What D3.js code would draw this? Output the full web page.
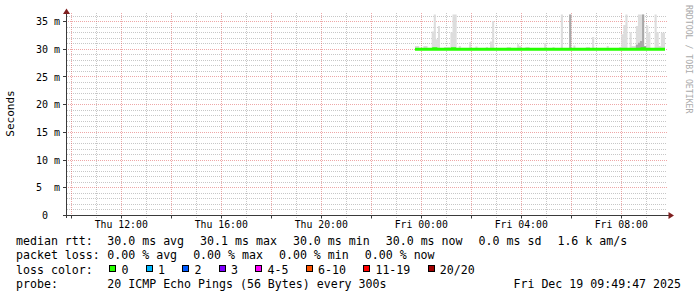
<!DOCTYPE html>
<html><head><meta charset="utf-8">
<script src="https://cdn.jsdelivr.net/npm/d3@7"></script>
<style>
html,body{margin:0;padding:0;background:#fff}
svg{display:block}
text{font-family:"DejaVu Sans Mono",monospace;white-space:pre;fill:#000}
</style>
</head><body>
<svg id="c" width="697" height="297"></svg>
<script>
// ---------- data ----------
const yTicks = [0, 5, 10, 15, 20, 25, 30, 35];
const yTickLabels = ["0  ", "5  m", "10 m", "15 m", "20 m", "25 m", "30 m", "35 m"];
const yLabel = "Seconds";
const watermark = "RRDTOOL / TOBI OETIKER";

const graphStart = "2025-12-18T09:49:47";
const graphEnd = "2025-12-19T09:49:47";
const dataStart = "2025-12-18T23:45:00";
const stepMinutes = 5;

// per 5-minute step (ms): median, max ping (outer smoke), inner smoke
const median = [
30.0,30.0,30.0,30.0,30.0,30.0,30.0,30.0,30.0,30.1,30.0,30.0,30.0,30.0,30.0,30.0,30.0,30.0,30.1,30.0,
30.0,30.0,30.0,30.0,30.0,30.0,30.0,30.0,30.0,30.0,30.0,30.0,30.0,30.0,30.0,30.0,30.0,30.0,30.0,30.0,
30.0,30.0,30.0,30.0,30.0,30.0,30.0,30.0,30.0,30.0,30.0,30.0,30.0,30.0,30.0,30.0,30.0,30.0,30.0,30.0,
30.0,30.0,30.0,30.0,30.0,30.0,30.0,30.0,30.0,30.0,30.0,30.0,30.0,30.0,30.0,30.0,30.0,30.0,30.0,30.0,
30.0,30.0,30.0,30.0,30.0,30.0,30.0,30.0,30.0,30.0,30.0,30.0,30.0,30.0,30.0,30.0,30.0,30.0,30.0,30.0,
30.0,30.0,30.0,30.0,30.0,30.0,30.0,30.0,30.0,30.1,30.0,30.0,30.0,30.0,30.0,30.0,30.0,30.0,30.0,30.0];
const pingMax = [
30.6,30.6,30.1,30.1,30.6,30.6,30.1,30.1,33.2,38.0,31.8,34.2,30.1,30.1,30.4,30.4,30.4,33.1,38.0,38.0,
30.1,30.6,30.1,30.1,30.1,30.1,31.3,30.1,30.1,30.5,30.1,30.1,30.1,30.1,30.4,30.1,31.4,35.1,30.1,30.1,
30.1,30.1,30.1,30.1,30.4,30.4,30.1,30.1,30.1,30.9,30.6,30.1,30.1,30.4,30.4,30.1,30.1,30.1,30.1,30.1,
30.1,30.1,31.1,30.1,30.1,30.1,30.4,30.1,30.1,30.1,38.0,30.1,30.1,30.1,38.0,30.1,30.7,30.1,30.1,30.1,
30.1,30.1,30.4,30.4,30.1,32.2,30.1,30.1,30.1,30.1,30.1,30.1,30.6,30.1,30.1,30.1,30.1,30.1,30.4,32.7,
34.4,38.0,30.1,33.1,30.6,30.6,34.2,38.0,38.0,38.0,30.6,34.3,33.0,30.1,30.1,38.0,33.1,30.6,33.0,33.0];
const pingInner = [
30.0,30.0,30.0,30.0,30.0,30.0,30.0,30.0,30.0,30.0,30.0,30.0,30.0,30.0,30.0,30.0,30.0,30.0,30.0,30.0,
30.0,30.0,30.0,30.0,30.0,30.0,30.0,30.0,30.0,30.0,30.0,30.0,30.0,30.0,30.0,30.0,30.0,30.0,30.0,30.0,
30.0,30.0,30.0,30.0,30.0,30.0,30.0,30.0,30.0,30.0,30.0,30.0,30.0,30.0,30.0,30.0,30.0,30.0,30.0,30.0,
30.0,30.0,30.0,30.0,30.0,30.0,30.0,30.0,30.0,30.0,30.0,30.0,30.0,30.0,38.0,30.0,30.0,30.0,30.0,30.0,
30.0,30.0,30.0,30.0,30.0,30.0,30.0,30.0,30.0,30.0,30.0,30.0,30.0,30.0,30.0,30.0,30.0,30.0,30.0,30.0,
30.0,30.0,30.0,30.0,30.0,30.0,30.8,31.2,31.5,38.0,30.6,30.0,30.0,30.0,30.0,30.0,30.0,30.0,30.0,30.0];
const pingMin = 29.9;

const legendRows = ["median rtt:", "packet loss:", "loss color:", "probe:"];
const medianStats = ["30.0 ms avg", "30.1 ms max", "30.0 ms min", "30.0 ms now", "0.0 ms sd", "1.6 k am/s"];
const lossStats = ["0.00 % avg", "0.00 % max", "0.00 % min", "0.00 % now"];
const lossLabels = ["0", "1", "2", "3", "4-5", "6-10", "11-19", "20/20"];
const lossColors = ["#26ff00", "#00b8ff", "#0059ff", "#7e00ff", "#ff00ff", "#ff5500", "#ff0000", "#a00000"];
const probeText = "20 ICMP Echo Pings (56 Bytes) every 300s";
const dateText = "Fri Dec 19 09:49:47 2025";

// ---------- drawing ----------
const svg = d3.select("#c");
const P = {l: 67, r: 667, t: 14.5, b: 215.5};
const x = d3.scaleTime().domain([new Date(graphStart), new Date(graphEnd)]).range([P.l, P.r]);
const y = d3.scaleLinear().domain([0, (P.b - P.t) / 5.54]).range([P.b, P.t]);
const crisp = v => Math.floor(v) + 0.5;

svg.append("rect").attr("width", 697).attr("height", 297).attr("fill", "#fff");

const minorCol = "rgba(143,143,143,0.5)", majorCol = "rgba(222,79,79,0.5)";
// grid (under graph)
const grid = svg.append("g");
const minorY = d3.range(1, 37).filter(v => v % 5 !== 0 && y(v) >= P.t - 1);
grid.selectAll(".hm").data(minorY).join("line")
  .attr("x1", P.l).attr("x2", P.r)
  .attr("y1", d => crisp(y(d))).attr("y2", d => crisp(y(d)))
  .attr("stroke", minorCol).attr("stroke-dasharray", "1,1");
const hours = d3.timeHour.range(x.domain()[0], x.domain()[1]);
grid.selectAll(".vm").data(hours.filter(h => h.getHours() % 2 !== 0)).join("line")
  .attr("x1", d => crisp(x(d))).attr("x2", d => crisp(x(d)))
  .attr("y1", 13).attr("y2", 218)
  .attr("stroke", minorCol).attr("stroke-dasharray", "1,1");
grid.selectAll(".hM").data(yTicks.filter(v => v > 0)).join("line")
  .attr("x1", P.l - 3).attr("x2", P.r)
  .attr("y1", d => crisp(y(d))).attr("y2", d => crisp(y(d)))
  .attr("stroke", majorCol).attr("stroke-dasharray", "1,1");
grid.selectAll(".vM").data(hours.filter(h => h.getHours() % 2 === 0)).join("line")
  .attr("x1", d => crisp(x(d))).attr("x2", d => crisp(x(d)))
  .attr("y1", 13).attr("y2", 218)
  .attr("stroke", majorCol).attr("stroke-dasharray", "1,1");

// data points
const t0 = new Date(dataStart).getTime();
const pts = median.map((m, i) => ({t: new Date(t0 + i * stepMinutes * 60000), med: m, max: pingMax[i], inner: pingInner[i]}));
pts.push(Object.assign({}, pts[pts.length - 1], {t: new Date(t0 + median.length * stepMinutes * 60000)}));

svg.append("clipPath").attr("id", "pc").append("rect")
  .attr("x", P.l).attr("y", P.t).attr("width", P.r - P.l).attr("height", P.b - P.t);
const g = svg.append("g").attr("clip-path", "url(#pc)");

const area = key => d3.area().curve(d3.curveStepAfter)
  .x(d => x(d.t)).y0(y(pingMin)).y1(d => y(d[key]));
g.append("path").datum(pts).attr("d", area("max")).attr("fill", "#dddddd");
g.append("path").datum(pts).attr("d", area("inner")).attr("fill", "#a8a8a8");

g.append("path").datum(pts)
  .attr("d", d3.line().curve(d3.curveStepAfter).x(d => x(d.t)).y(d => y(d.med)))
  .attr("fill", "none").attr("stroke", lossColors[0]).attr("stroke-width", 3);

// axes
const axisCol = "#3a3a3a", arrowCol = "#7f1f1f";
svg.append("line").attr("x1", P.l - 0.5).attr("x2", P.l - 0.5).attr("y1", 218).attr("y2", 13).attr("stroke", axisCol);
svg.append("line").attr("x1", 63).attr("x2", 669).attr("y1", P.b).attr("y2", P.b).attr("stroke", axisCol);
svg.selectAll(".yt").data(yTicks.filter(v => v > 0)).join("line")
  .attr("x1", P.l - 4).attr("x2", P.l - 1)
  .attr("y1", d => crisp(y(d))).attr("y2", d => crisp(y(d))).attr("stroke", axisCol);
svg.selectAll(".xt").data(hours.filter(h => h.getHours() % 2 === 0)).join("line")
  .attr("x1", d => crisp(x(d))).attr("x2", d => crisp(x(d)))
  .attr("y1", P.b + 0.5).attr("y2", P.b + 3).attr("stroke", axisCol);
svg.append("path").attr("d", "M66.5,8.5 L63,14 L70,14 Z").attr("fill", arrowCol);
svg.append("path").attr("d", "M674,215.5 L668.5,212 L668.5,219 Z").attr("fill", arrowCol);

// tick labels
svg.selectAll(".yl").data(yTicks).join("text")
  .attr("x", 60).attr("y", d => y(d) + 3.5)
  .attr("text-anchor", "end").attr("font-size", "10px")
  .text((d, i) => yTickLabels[i]);
const fmt = d3.timeFormat("%a %H:%M");
svg.selectAll(".xl").data(hours.filter(h => h.getHours() % 4 === 0)).join("text")
  .attr("x", d => x(d)).attr("y", 228)
  .attr("text-anchor", "middle").attr("font-size", "9.8px")
  .text(d => fmt(d));

svg.append("text").attr("transform", "translate(14,113.5) rotate(-90)")
  .attr("text-anchor", "middle").attr("font-size", "11px").text(yLabel);
svg.append("text").attr("transform", "translate(685.5,5) rotate(90)")
  .attr("font-size", "8.2px").style("fill", "#aaaaaa").text(watermark);

// legend
const fs = 11.6, cw = fs * 0.602;
const rowY = [245, 259.3, 273.5, 287.7];
const L = svg.append("g").attr("font-size", fs + "px");
legendRows.forEach((r, i) => L.append("text").attr("x", 16).attr("y", rowY[i]).text(r));
let px = 107.3;
medianStats.forEach(s => { L.append("text").attr("x", px).attr("y", rowY[0]).text(s); px += s.length * cw + 16; });
px = 107.3;
lossStats.forEach(s => { L.append("text").attr("x", px).attr("y", rowY[1]).text(s); px += s.length * cw + 16; });
px = 109.3;
lossLabels.forEach((s, i) => {
  L.append("rect").attr("x", Math.round(px) + 0.5).attr("y", 265.5).attr("width", 6).attr("height", 6)
    .attr("fill", lossColors[i]).attr("stroke", "#000");
  L.append("text").attr("x", px + 12.3).attr("y", rowY[2]).text(s);
  px += 12.3 + s.length * cw + 17.2;
});
L.append("text").attr("x", 107.3).attr("y", rowY[3]).text(probeText);
L.append("text").attr("x", 681).attr("y", rowY[3]).attr("text-anchor", "end").text(dateText);
</script>
</body></html>
